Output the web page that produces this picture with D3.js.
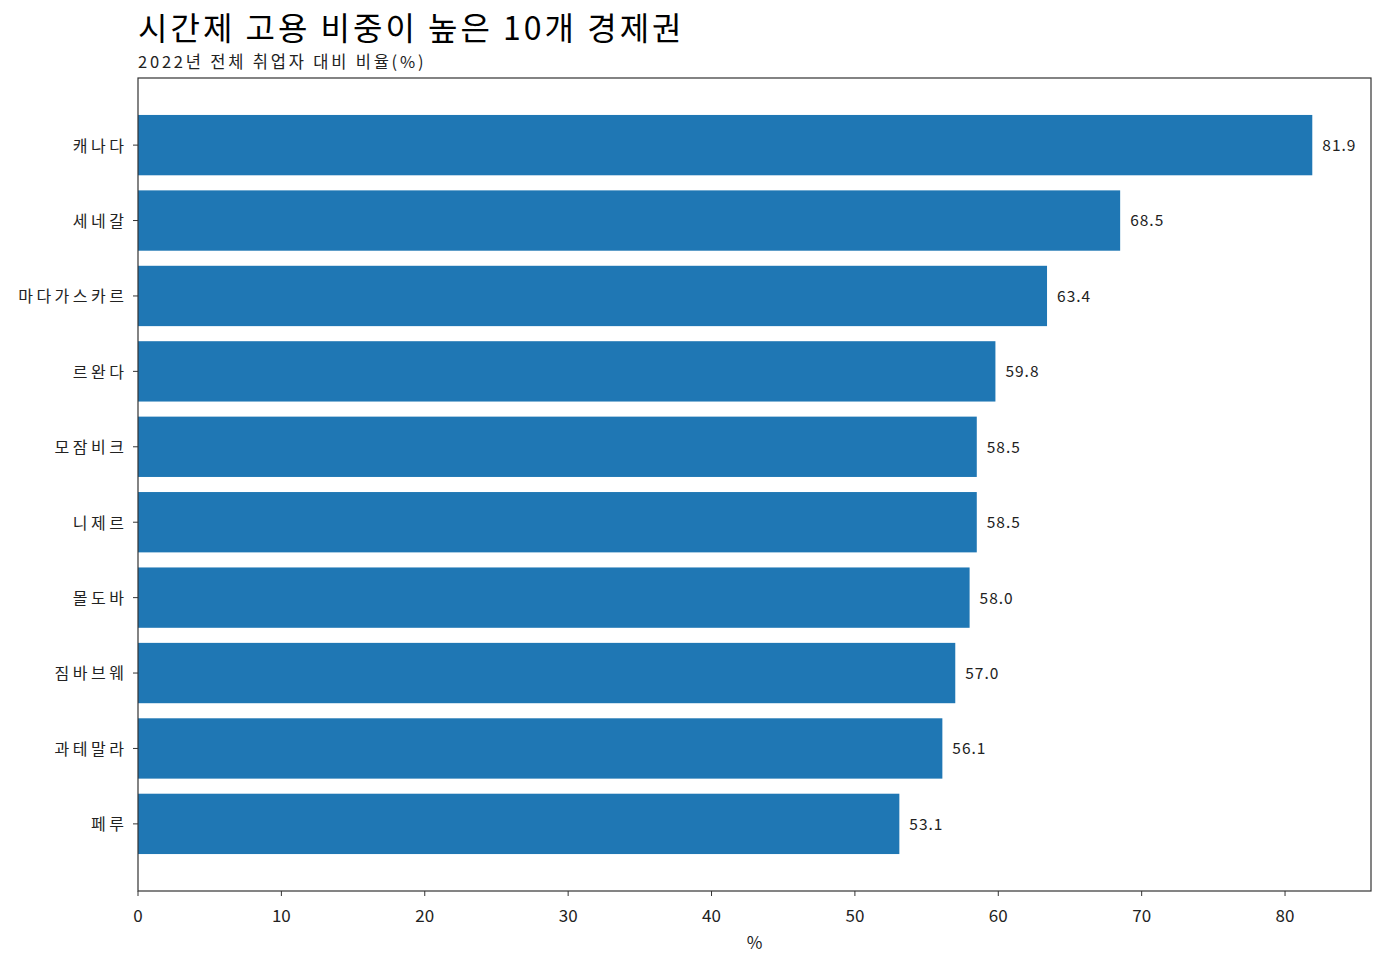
<!DOCTYPE html>
<html>
<head>
<meta charset="utf-8">
<script src="https://cdn.jsdelivr.net/npm/d3@7"></script>
<style>
  body { margin: 0; background: #fff; }
  text { font-family: "Noto Sans CJK KR", "Noto Sans", sans-serif; fill: #222; }
</style>
</head>
<body>
<div id="chart"></div>
<script>
// data
let countries = ['캐나다', '세네갈', '마다가스카르', '르완다', '모잠비크', '니제르', '몰도바', '짐바브웨', '과테말라', '페루'];
let shares = [81.9, 68.5, 63.4, 59.8, 58.5, 58.5, 58.0, 57.0, 56.1, 53.1];
let xTicks = [0, 10, 20, 30, 40, 50, 60, 70, 80];

let svgWidth = 1385;
let svgHeight = 965;
let margin = { top: 78, right: 14, bottom: 74, left: 138 };
let plotWidth = svgWidth - margin.left - margin.right;
let plotHeight = svgHeight - margin.top - margin.bottom;

let svg = d3.select('#chart').append('svg')
    .attr('width', svgWidth)
    .attr('height', svgHeight);

let g = svg.append('g')
    .attr('transform', `translate(${margin.left},${margin.top})`);

let x = d3.scaleLinear()
    .domain([0, d3.max(shares) * 1.05])
    .range([0, plotWidth]);

// matplotlib-like categorical axis: bar height 0.8, 5% margins
let yLin = d3.scaleLinear()
    .domain([-0.4 - 0.49, countries.length - 1 + 0.4 + 0.49])
    .range([0, plotHeight]);
let barH = yLin(0.8) - yLin(0);

g.selectAll('.bar')
    .data(shares)
    .enter()
    .append('rect')
    .attr('class', 'bar')
    .attr('x', x(0))
    .attr('y', (d, i) => yLin(i) - barH / 2)
    .attr('width', d => x(d) - x(0))
    .attr('height', barH)
    .attr('fill', '#1f77b4');

g.selectAll('.val')
    .data(shares)
    .enter()
    .append('text')
    .attr('class', 'val')
    .attr('x', d => x(d) + 10)
    .attr('y', (d, i) => yLin(i))
    .attr('dy', '0.38em')
    .style('font-size', '15.5px')
    .style('letter-spacing', '1px')
    .text(d => d.toFixed(1));

// frame
g.append('rect')
    .attr('width', plotWidth)
    .attr('height', plotHeight)
    .attr('fill', 'none')
    .attr('stroke', '#333')
    .attr('stroke-width', 1.2);

// x axis
let xAxis = g.append('g')
    .attr('transform', `translate(0,${plotHeight})`);
xAxis.selectAll('line')
    .data(xTicks)
    .enter()
    .append('line')
    .attr('x1', d => x(d)).attr('x2', d => x(d))
    .attr('y1', 0).attr('y2', 5)
    .attr('stroke', '#333');
xAxis.selectAll('text')
    .data(xTicks)
    .enter()
    .append('text')
    .attr('x', d => x(d))
    .attr('y', 31)
    .attr('text-anchor', 'middle')
    .style('font-size', '17px')
    .text(d => d);

// y axis
let yAxis = g.append('g');
yAxis.selectAll('line')
    .data(countries)
    .enter()
    .append('line')
    .attr('x1', -5).attr('x2', 0)
    .attr('y1', (d, i) => yLin(i)).attr('y2', (d, i) => yLin(i))
    .attr('stroke', '#333');
yAxis.selectAll('text')
    .data(countries)
    .enter()
    .append('text')
    .attr('x', -14 + 3.5)
    .attr('y', (d, i) => yLin(i))
    .attr('dy', '0.4em')
    .attr('text-anchor', 'end')
    .style('font-size', '16px')
    .style('letter-spacing', '3.5px')
    .text(d => d);

g.append('text')
    .attr('x', plotWidth / 2)
    .attr('y', plotHeight + 58)
    .attr('text-anchor', 'middle')
    .style('font-size', '17px')
    .text('%');

// titles
svg.append('text')
    .attr('x', margin.left)
    .attr('y', 40)
    .style('font-size', '32px')
    .style('letter-spacing', '3px')
    .style('fill', '#000')
    .text('시간제 고용 비중이 높은 10개 경제권');

svg.append('text')
    .attr('x', margin.left)
    .attr('y', 68)
    .style('font-size', '16.5px')
    .style('letter-spacing', '2.8px')
    .text('2022년 전체 취업자 대비 비율(%)');
</script>
</body>
</html>
